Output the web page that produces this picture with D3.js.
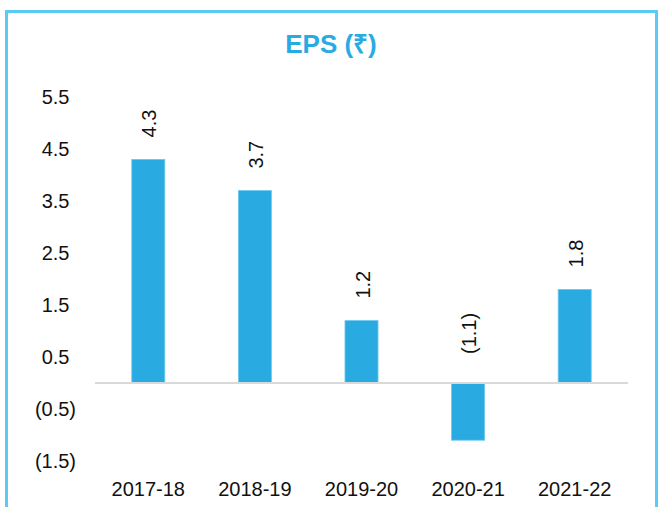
<!DOCTYPE html>
<html lang="en">
<head>
    <meta charset="UTF-8">
    <title>EPS (₹)</title>
    <script src="https://d3js.org/d3.v7.min.js"></script>
    <style>
        body {
            margin: 0;
            background: #ffffff;
            font-family: "Liberation Sans", Arial, sans-serif;
        }
        .frame {
            fill: none;
            stroke: #5bcbf5;
            stroke-width: 3;
        }
        .title {
            font-size: 26px;
            font-weight: bold;
            fill: #29abe2;
        }
        .axis text {
            font-size: 20px;
            fill: #111;
        }
        .bar {
            fill: #29abe2;
            stroke: #6cc9f0;
            stroke-width: 0.8;
        }
        .value-label {
            font-size: 20px;
            fill: #111;
        }
    </style>
</head>
<body>
    <div id="chart"></div>

    <script>
        // Data
        const years = ["2017-18", "2018-19", "2019-20", "2020-21", "2021-22"];
        const eps = [4.3, 3.7, 1.2, -1.1, 1.8];
        const yTicks = [-1.5, -0.5, 0.5, 1.5, 2.5, 3.5, 4.5, 5.5];

        const width = 660;
        const height = 507;

        // brackets for negatives, like the accounting format in the source
        const fmt = v => v < 0 ? `(${d3.format(".1f")(-v)})` : d3.format(".1f")(v);

        const svg = d3.select("#chart").append("svg")
            .attr("width", width)
            .attr("height", height);

        // outer frame
        svg.append("rect")
            .attr("class", "frame")
            .attr("x", 6.5)
            .attr("y", 11.5)
            .attr("width", 650)
            .attr("height", 520);

        svg.append("text")
            .attr("class", "title")
            .attr("x", 331)
            .attr("y", 53)
            .attr("text-anchor", "middle")
            .text("EPS (₹)");

        // scales
        const x = d3.scaleBand()
            .domain(years)
            .range([95, 628])
            .paddingInner(0.69)
            .paddingOuter(0.345);

        const y = d3.scaleLinear()
            .domain([-1.5, 5.5])
            .range([461, 97]);

        // y axis labels only (no line, no ticks)
        const yAxis = svg.append("g")
            .attr("class", "axis")
            .attr("transform", "translate(76,0)")
            .call(d3.axisLeft(y).tickValues(yTicks).tickSize(0).tickPadding(0).tickFormat(fmt));
        yAxis.select(".domain").remove();
        yAxis.selectAll("text")
            .attr("dx", d => d < 0 ? 0 : -6.5);
        yAxis.attr("font-family", null).attr("font-size", null);

        // bars
        svg.selectAll(".bar")
            .data(eps)
            .enter().append("rect")
            .attr("class", "bar")
            .attr("x", (d, i) => x(years[i]))
            .attr("y", d => y(Math.max(d, 0)))
            .attr("width", x.bandwidth())
            .attr("height", d => Math.abs(y(d) - y(0)));

        // zero line
        svg.append("line")
            .attr("x1", 95)
            .attr("x2", 628)
            .attr("y1", y(0))
            .attr("y2", y(0))
            .attr("stroke", "#d9d9d9")
            .attr("stroke-width", 2);

        // x axis labels
        const xAxis = svg.append("g")
            .attr("class", "axis")
            .attr("transform", "translate(0,481)")
            .call(d3.axisBottom(x).tickSize(0).tickPadding(0));
        xAxis.select(".domain").remove();
        xAxis.attr("font-family", null).attr("font-size", null);
        xAxis.selectAll("text").attr("dy", "0.75em");

        // rotated value labels, reading upwards from above the bar
        svg.selectAll(".value-label")
            .data(eps)
            .enter().append("text")
            .attr("class", "value-label")
            .attr("text-anchor", "start")
            .attr("dy", "0.35em")
            .attr("transform", (d, i) => {
                const cx = x(years[i]) + x.bandwidth() / 2 + 1;
                const cy = y(Math.max(d, 0)) - (d < 0 ? 29 : 22);
                return `translate(${cx},${cy}) rotate(-90)`;
            })
            .text(fmt);
    </script>
</body>
</html>
